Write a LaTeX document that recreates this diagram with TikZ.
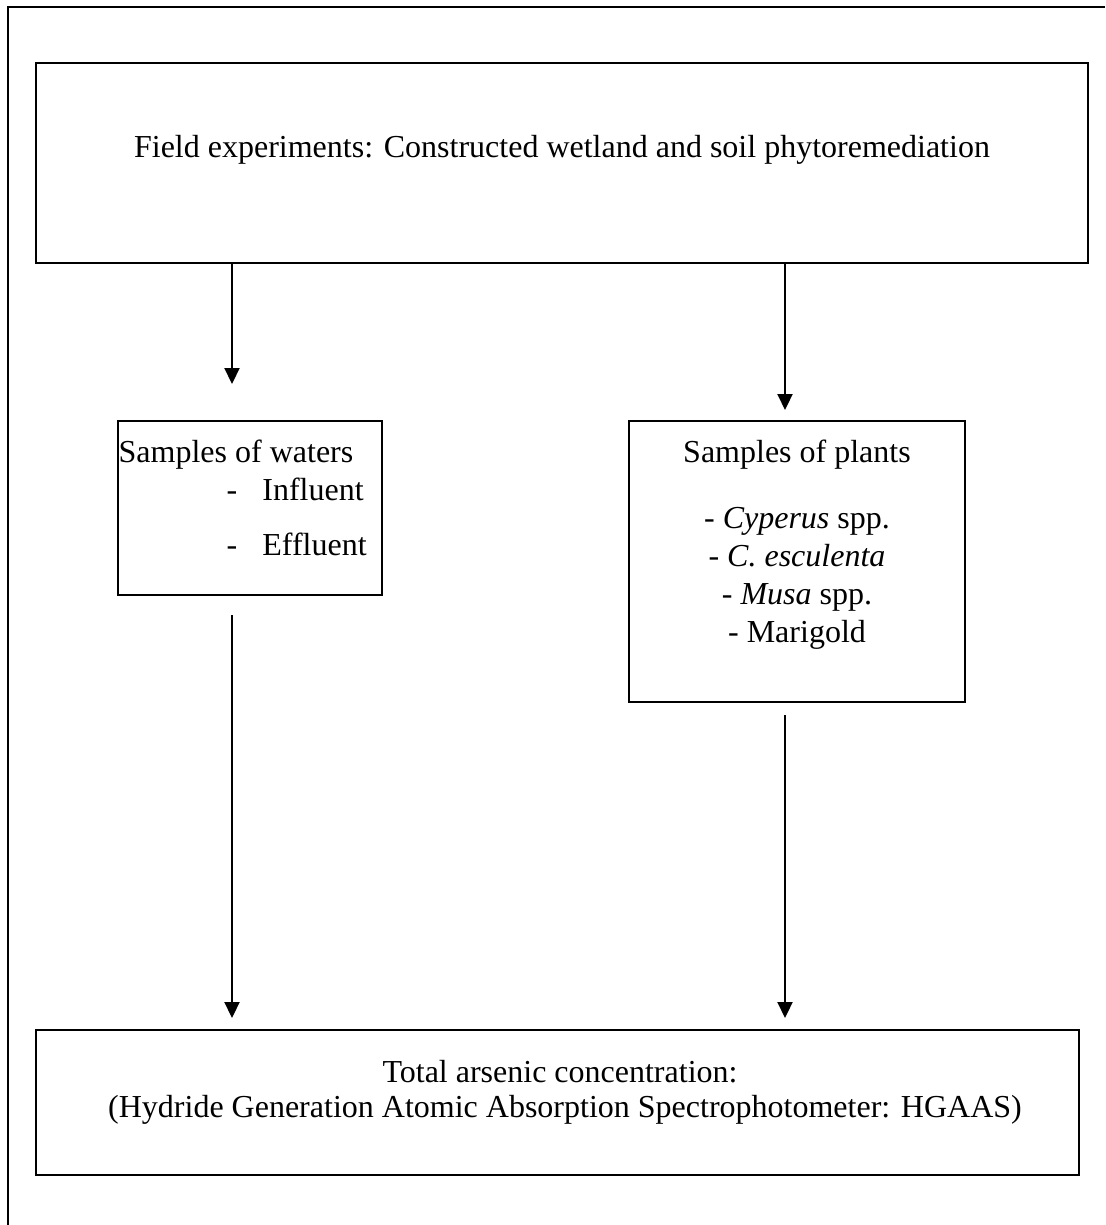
\documentclass[tikz,border=0pt]{standalone}
\usepackage{fontspec}
\setmainfont{Liberation Serif}
\usetikzlibrary{arrows.meta}
\begin{document}
\begin{tikzpicture}[x=0.5pt,y=-0.5pt,
  box/.style={draw,line width=1.2pt,rectangle,inner sep=0pt,outer sep=0pt},
  txt/.style={anchor=base,inner sep=0pt,font=\fontsize{16}{19}\selectfont},
  arr/.style={line width=1.1pt,-{Triangle[length=8pt,width=7.5pt]}}]
\useasboundingbox (0,0) rectangle (1105,1225);
% outer frame (only top and left edges fall inside the page)
\draw[line width=1.1pt] (8,1225) -- (8,7) -- (1105,7);

% boxes
\node[box,minimum width=526pt,minimum height=100pt] (top) at (562,163) {};
\node[box,minimum width=132pt,minimum height=87pt] (waters) at (250,508) {};
\node[box,minimum width=168pt,minimum height=140.5pt] (plants) at (797,561.5) {};
\node[box,minimum width=521.5pt,minimum height=72.5pt] (result) at (557.5,1102.5) {};

% texts
\node[txt] (ttop) at (562,158) {Field experiments: Constructed wetland and soil phytoremediation};

\node[txt] (wtitle) at (236,462) {Samples of waters};
\node[txt] (wd1) at (232,500) {-};
\node[txt,anchor=base west] (w1) at (262,500) {Influent};
\node[txt] (wd2) at (232,555) {-};
\node[txt,anchor=base west] (w2) at (262,555) {Effluent};

\node[txt] (ptitle) at (797,462) {Samples of plants};
\node[txt] (p1) at (797,528) {- \textit{Cyperus} spp.};
\node[txt] (p2) at (797,566) {- \textit{C. esculenta}};
\node[txt] (p3) at (797,604) {- \textit{Musa} spp.};
\node[txt] (p4) at (797,642) {- Marigold};

\node[txt] (r1) at (560,1082) {Total arsenic concentration:};
\node[txt] (r2) at (565,1117) {(Hydride Generation Atomic Absorption Spectrophotometer: HGAAS)};

% connectors
\coordinate (xl) at (232,0);
\coordinate (xr) at (785,0);
\draw[arr,shorten >=18.5pt] (top.south -| xl) -- (waters.north -| xl);
\draw[arr,shorten >=5.5pt] (top.south -| xr) -- (plants.north -| xr);
\draw[arr,shorten <=10pt,shorten >=6pt] (waters.south -| xl) -- (result.north -| xl);
\draw[arr,shorten <=6.5pt,shorten >=6pt] (plants.south -| xr) -- (result.north -| xr);
\end{tikzpicture}
\end{document}
